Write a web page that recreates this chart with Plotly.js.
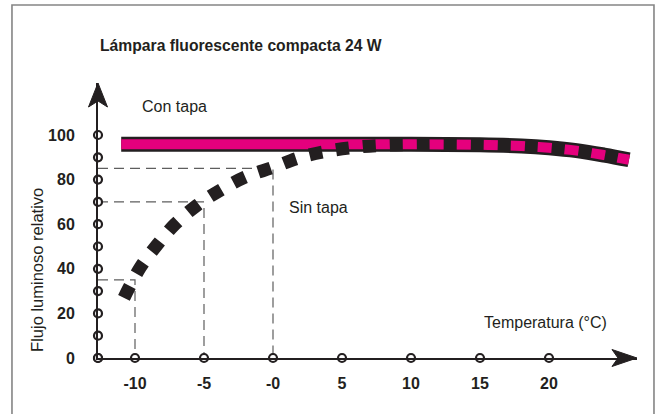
<!DOCTYPE html>
<html>
<head>
<meta charset="utf-8">
<script src="https://cdn.plot.ly/plotly-3.0.1.min.js"></script>
<style>html,body{margin:0;padding:0;background:#fff;}#chart{width:658px;height:414px;}</style>
</head>
<body>
<div id="chart"></div>
<script>
// ---- data ----
const chartTitle = 'Lámpara fluorescente compacta 24 W';
const xTickVals = [-10, -5, 0, 5, 10, 15, 20];
const xTickText = ['-10', '-5', '-0', '5', '10', '15', '20'];
const yTickVals = [0, 20, 40, 60, 80, 100];
const yTickText = ['0', '20', '40', '60', '80', '100'];
const yMarkVals = [0, 10, 20, 30, 40, 50, 60, 70, 80, 90, 100];

const conTapaX = [-11, 0, 10, 15, 18, 20, 22, 24, 25.8];
const conTapaY = [95.8, 95.8, 95.8, 95.6, 95.1, 94.3, 93.0, 91.0, 88.9];

const sinTapaX = [-10.8, -9.6, -8.4, -7.1, -5.5, -3.8, -2.0, 0, 2, 4, 6, 8, 10, 12, 15, 18, 20, 22, 24, 25.8];
const sinTapaY = [27.0, 40.8, 50.7, 60.0, 68.5, 75.3, 81.2, 85.5, 90.0, 92.8, 94.5, 95.4, 95.7, 95.8, 95.6, 95.1, 94.3, 93.0, 91.0, 88.9];

const guideTemps = [-10, -5, 0];
const guideFlux = [35, 70, 85];

// ---- layout constants ----
const xRange = [-12.681, 26.377];
const yRange = [0, 123.318];
const ink = '#231F20';
const magenta = '#E5007D';
const font = 'Liberation Sans, Arial, Helvetica, sans-serif';

const traces = [];

// dashed guide lines
guideTemps.forEach((t, i) => {
  traces.push({
    x: [xRange[0], t, t], y: [guideFlux[i], guideFlux[i], 0],
    mode: 'lines', line: {color: '#5e5e5e', width: 1.2, dash: '10px,6px'},
    hoverinfo: 'skip', showlegend: false
  });
});

// Con tapa: black outline + magenta core
traces.push({x: conTapaX, y: conTapaY, mode: 'lines', line: {color: ink, width: 15, shape: 'spline'}, showlegend: false, hoverinfo: 'skip'});
traces.push({x: conTapaX, y: conTapaY, mode: 'lines', line: {color: magenta, width: 10, shape: 'spline'}, showlegend: false, hoverinfo: 'skip'});

// Sin tapa: thick black dashes
traces.push({x: sinTapaX, y: sinTapaY, mode: 'lines', line: {color: ink, width: 13, shape: 'spline', dash: '13px,14px'}, showlegend: false, hoverinfo: 'skip'});

// axis circle marks
const circ = {symbol: 'circle', size: 8, color: '#fff', line: {color: ink, width: 2.2}};
traces.push({x: [xRange[0]].concat(xTickVals), y: new Array(xTickVals.length + 1).fill(0), mode: 'markers', marker: circ, cliponaxis: false, showlegend: false, hoverinfo: 'skip'});
traces.push({x: yMarkVals.map(() => xRange[0]), y: yMarkVals, mode: 'markers', marker: circ, cliponaxis: false, showlegend: false, hoverinfo: 'skip'});

const layout = {
  width: 658, height: 414,
  margin: {l: 98, r: 21, t: 83, b: 56, pad: 0},
  paper_bgcolor: '#fff', plot_bgcolor: 'rgba(0,0,0,0)',
  showlegend: false,
  font: {family: font, color: ink},
  title: {text: '<b>' + chartTitle + '</b>', font: {family: font, size: 15.7, color: ink},
          xref: 'paper', x: 0.0037, xanchor: 'left', yref: 'container', y: 1 - 46 / 414, yanchor: 'middle'},
  xaxis: {range: xRange, showgrid: false, zeroline: false, showline: true, linecolor: ink, linewidth: 2,
          tickmode: 'array', tickvals: xTickVals, ticktext: xTickText, ticks: 'outside', ticklen: 10, tickcolor: 'rgba(0,0,0,0)',
          tickfont: {family: font, size: 16, color: ink, weight: 'bold'}, fixedrange: true},
  yaxis: {range: yRange, showgrid: false, zeroline: false, showline: true, linecolor: ink, linewidth: 2,
          tickmode: 'array', tickvals: yTickVals, ticktext: yTickText, ticks: 'outside', ticklen: 18, tickcolor: 'rgba(0,0,0,0)',
          tickfont: {family: font, size: 16, color: ink, weight: 'bold'}, fixedrange: true},
  annotations: [
    {text: 'Con tapa', x: -9.64, y: 112.6, xref: 'x', yref: 'y', xanchor: 'left', yanchor: 'middle', showarrow: false, font: {size: 16, color: ink}},
    {text: 'Sin tapa', x: 1.01, y: 67.3, xref: 'x', yref: 'y', xanchor: 'left', yanchor: 'middle', showarrow: false, font: {size: 16, color: ink}},
    {text: 'Temperatura (°C)', x: 15.14, y: 16.1, xref: 'x', yref: 'y', xanchor: 'left', yanchor: 'middle', showarrow: false, font: {size: 16, color: ink}},
    {text: 'Flujo luminoso relativo', x: (37 - 98) / 539, y: 39.5, xref: 'paper', yref: 'y', xanchor: 'center', yanchor: 'middle', textangle: -90, showarrow: false, font: {size: 16.5, color: ink}}
  ],
  shapes: [
    // frame
    {type: 'rect', xref: 'paper', yref: 'paper', x0: -0.1596, x1: 1.0315, y0: -0.2255, y1: 1.2836, line: {color: '#858585', width: 1.6}, layer: 'below'},
    // x arrow head (paper coords)
    {type: 'path', xref: 'paper', yref: 'paper',
     path: 'M1,0 L0.9536,0.0309 L0.9647,0 L0.9536,-0.0309 Z', fillcolor: ink, line: {color: ink, width: 1}, layer: 'above'},
    // y arrow head (paper coords)
    {type: 'path', xref: 'paper', yref: 'paper',
     path: 'M0,1 L-0.01763,0.9127 L0,0.9345 L0.01763,0.9127 Z', fillcolor: ink, line: {color: ink, width: 1}, layer: 'above'}
  ]
};

Plotly.newPlot('chart', traces, layout, {staticPlot: true, displayModeBar: false});
</script>
</body>
</html>
